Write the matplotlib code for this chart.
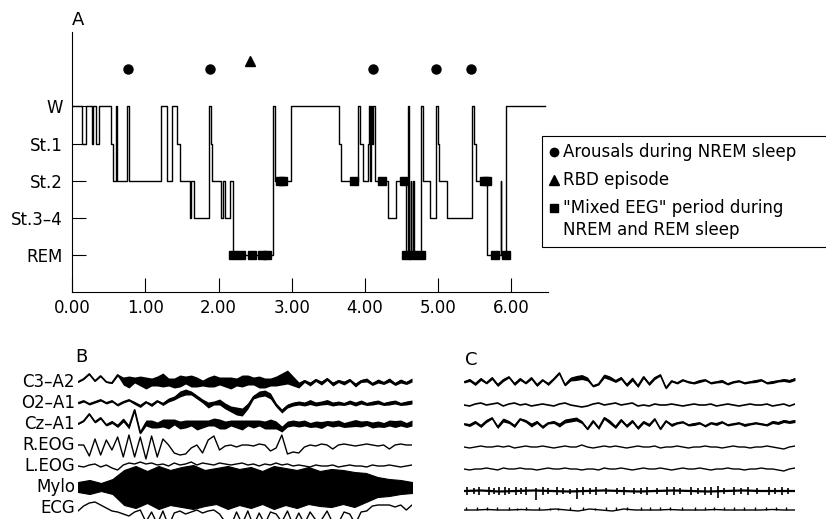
import numpy as np
import matplotlib
matplotlib.use('Agg')
import matplotlib.pyplot as plt
import matplotlib.transforms as mtransforms
from matplotlib.lines import Line2D

W_PX, H_PX = 826, 519

# ---- panel A: hypnogram -------------------------------------------------
STAGE_LEVEL = {'REM': 0, 'S34': 1, 'S2': 2, 'S1': 3, 'W': 4}
STAGE_TICK_LABELS = ['REM', 'St.3\u20134', 'St.2', 'St.1', 'W']
HOUR_TICKS = [0, 1, 2, 3, 4, 5, 6]
HOUR_LABELS = ['0.00', '1.00', '2.00', '3.00', '4.00', '5.00', '6.00']

HYP_TIME = [0.000, 0.137, 0.182, 0.270, 0.287, 0.319, 0.364, 0.523, 0.551,
            0.592, 0.610, 0.742, 0.770, 1.219, 1.297, 1.365, 1.433, 1.478,
            1.606, 1.628, 1.660, 1.870, 1.890, 1.915, 2.038, 2.060, 2.083,
            2.151, 2.197, 2.745, 2.775, 2.995, 3.652, 3.675, 3.902, 3.940,
            3.975, 4.039, 4.052, 4.065, 4.080, 4.095, 4.110, 4.143, 4.312,
            4.425, 4.561, 4.593, 4.600, 4.630, 4.637, 4.662, 4.668, 4.766,
            4.789, 4.889, 4.971, 4.994, 5.007, 5.117, 5.462, 5.494, 5.517,
            5.667, 5.858, 5.865, 5.935, 6.463]
HYP_STAGE = ['W', 'S1', 'W', 'S1', 'W', 'S1', 'W', 'S1', 'S2',
             'W', 'S2', 'W', 'S2', 'W', 'S2', 'W', 'S1', 'S2',
             'S34', 'S2', 'S34', 'W', 'S1', 'S2', 'S34', 'S2', 'S34',
             'S2', 'REM', 'W', 'S2', 'W', 'S1', 'S2', 'W', 'S1',
             'S2', 'S1', 'W', 'S2', 'W', 'S1', 'W', 'S2', 'S34',
             'S2', 'REM', 'W', 'REM', 'S2', 'REM', 'S2', 'REM', 'W',
             'S2', 'S34', 'W', 'S1', 'S2', 'S34', 'W', 'S1', 'S2',
             'REM', 'S2', 'REM', 'W', 'W']

AROUSAL_TIME = [0.755, 1.879, 4.107, 4.971, 5.457]
RBD_TIME = [2.429]
MIXED_TIME = [2.197, 2.302, 2.460, 2.592, 2.665, 2.838, 2.875, 3.845,
              4.232, 4.530, 4.562, 4.662, 4.766, 5.625, 5.665, 5.781, 5.926]
MIXED_STAGE = ['REM', 'REM', 'REM', 'REM', 'REM', 'S2', 'S2', 'S2',
               'S2', 'S2', 'REM', 'REM', 'REM', 'S2', 'S2', 'REM', 'REM']

LEGEND_LABELS = ['Arousals during NREM sleep',
                 'RBD episode',
                 '"Mixed EEG" period during\nNREM and REM sleep']

# ---- panels B and C: polygraphic traces (offsets in px, 30 s epochs) -----
# EEG channels: sampled trace + half-width of the dense scribble around it
CHANNELS = ['C3\u2013A2', 'O2\u2013A1', 'Cz\u2013A1', 'R.EOG', 'L.EOG', 'Mylo', 'ECG']

B_C3A2 = [0, 3, 8, 1, 6, 0, -1, 7, 1, 0, 2, 1, -1, 0, 1, 2, 0, -1, 1, 2,
          1, 0, -1, 0, 1, 1, 0, -1, 0, 1, 2, 1, 0, -1, 0, 1, 3, 5, 1, -3,
          1, -2, 2, -1, 3, -2, 1, -1, 2, -3, 1, 2, -2, 1, -1, 2, -2, 1, -1, 2]
B_C3A2_W = [0.5, 0.5, 0.5, 0.5, 0.5, 0.5, 0.5, 1, 4, 6, 3, 5, 6, 4, 5, 7, 4, 5, 6, 4,
            6, 5, 3, 5, 6, 4, 5, 6, 4, 6, 5, 4, 6, 5, 4, 5, 6, 7, 5, 3,
            1.5, 2, 1.5, 2, 1.5, 2, 1.5, 2, 1.5, 2, 1.5, 2, 1.5, 2, 1.5, 2, 1.5, 2, 1.5, 2]
B_O2A1 = [0, 2, -1, 1, 3, 0, 2, -2, 1, 3, 0, -3, 1, -2, 2, -1, 3, 5, 9, 11,
          10, 6, 2, -2, 0, 1, -3, -6, -8, -9, -3, 6, 9, 10, 7, -2, -8, -3, -1, 0,
          -1, 1, -1, 0, 1, -1, 0, -1, 1, -1, 1, -1, 0, 1, -1, 0, 1, -1, 0, 1]
B_O2A1_W = [1, 1, 1, 1, 1, 1, 1, 1, 1, 1, 1.5, 1.5, 1, 1.5, 1, 1.5, 2, 2, 3, 3,
            2, 2, 2, 3, 2, 3, 3, 3, 4, 4, 3, 2, 3, 3, 3, 2, 2, 2, 2, 2,
            2, 2.5, 2, 2, 2.5, 2, 2, 1.5, 2, 2, 2, 1.5, 2, 2, 1.5, 2, 2, 1.5, 2, 2]
B_CZA1 = [0, 3, 10, 2, 6, -1, 2, -2, 4, -3, 14, -9, 1, 0, -1, 1, 0, 2, -1, 0,
          1, -1, 0, 1, 2, 0, -1, 1, 0, -1, 1, 0, 1, -1, 0, -1, -5, 0, 1, 0,
          1, -1, 0, -1, 1, 0, 1, -1, 0, 1, 0, 1, -1, 0, -1, 1, 0, 1, -1, 1]
B_CZA1_W = [0.5, 0.5, 0.5, 1, 1, 1, 1.5, 1.5, 2, 2, 1, 1, 3, 4, 3, 4, 5, 3, 4, 4,
            3, 5, 4, 3, 4, 5, 4, 3, 4, 5, 3, 4, 3, 4, 5, 4, 3, 3, 3, 3,
            3, 2.5, 3, 3.5, 2.5, 3, 3, 2.5, 3, 3.5, 3, 2.5, 3, 3, 2.5, 3, 3.5, 3, 2.5, 3]
B_REOG = [0, 0, -11, 6, -10, 5, -5, 8, -12, 10, -12, 8, -14, 9, -12, 6, 0, -8, -10, -9,
          -3, 0, -8, 5, 9, -5, -1, 0, -2, 0, 0, -1, 1, 0, -6, -3, 10, -9, -7, -8,
          -2, 0, -1, 1, 0, -4, 0, 1, 0, -1, 0, 1, 0, -1, 0, -4, 0, 1, 0, 0]
B_LEOG = [0, -1, 1, 2, -1, 1, -2, -4, 1, 3, 2, 4, 2, 3, 1, 2, 0, 3, 1, 2,
          4, 1, 3, 2, 1, 3, 2, 1, 2, 3, 1, 2, 0, 2, 1, 3, 1, 2, 0, 1,
          0, -1, 1, 0, 0, 1, -1, 0, 1, 0, 0, -1, 1, 0, 0, 1, 0, -1, 0, 1]
B_MYLO_UP = [5, 7, 4, 8, 17, 21, 16, 21, 17, 20, 22, 17, 19, 21, 18,
             20, 16, 21, 19, 17, 20, 16, 18, 17, 15, 14, 10, 8, 7, 5]
B_MYLO_LO = [-5, -7, -4, -7, -18, -21, -16, -22, -18, -20, -22, -19, -17, -22, -18,
             -21, -17, -22, -18, -21, -17, -19, -20, -17, -20, -15, -10, -9, -7, -6]
B_ECG = [-3, 2, 5, 6, 3, 0, -3, -4, -6, -8, -4, -2, -14, -4, -16, -3, -18, -5, -3, -6,
         -4, -2, -5, -3, -2, -6, -14, -18, -4, -16, -3, -18, -5, -16, -4, -6, -14, -3, -17, -5,
         -16, -4, -12, -12, -3, -15, -15, -4, -6, -16, -4, -3, 2, 3, 3, 3, 1, 3, -2, 3]

C_C3A2 = [0, 2, -2, 3, -1, 4, -3, 2, 5, -2, 3, -1, 4, -3, 2, -2, 3, 9, -3, 3,
          4, 5, 3, -4, -2, 6, 4, 1, 4, -3, 3, -4, 5, -2, 4, 7, -6, 1, -1, 2,
          0, -1, 1, 2, -1, 0, 1, -2, 0, 1, -1, 0, 1, 2, -1, 0, 1, 2, 1, 3]
C_C3A2_W = [1, 1.5, 1.5, 1.5, 1, 1.5, 1.5, 1.5, 1, 1.5, 1.5, 1, 1.5, 1.5, 1, 1.5, 1, 1, 1, 2,
            2.5, 2.5, 2, 1, 1, 2, 2, 1.5, 1.5, 1.5, 2, 1.5, 1.5, 1.5, 1.5, 1, 1, 1, 1, 1,
            1, 1, 1.5, 1, 1, 1, 1.5, 1, 1, 1, 1, 1, 1.5, 1, 1, 1.5, 1, 1.5, 1.5, 1.5]
C_O2A1 = [0, -1, 1, 2, 0, 1, 2, -1, 1, 2, 0, 1, -1, 0, 1, 0, -1, 1, 2, 0,
          -1, -2, -1, 1, 2, 0, 1, 2, 0, 1, 2, -1, 0, -1, 1, 0, 0, 1, 0, -1,
          0, 1, 0, 0, 1, -1, 0, 1, 0, -1, 0, 1, 0, 0, 1, -1, 0, 1, -1, 1]
C_CZA1 = [0, -1, 2, -2, 3, 6, -3, 4, 2, -2, 5, 3, -1, 2, -3, 1, 2, -1, 3, 4,
          5, 2, -5, 3, -4, 6, 2, -3, 4, -2, 3, -4, 2, -1, 5, -5, 3, -1, 1, 2,
          -1, 0, 1, -2, 1, 0, 2, -1, 0, 1, -1, 0, 1, 0, -1, 2, 1, 3, 2, 3]
C_CZA1_W = [1, 1.5, 1.5, 1.5, 1.5, 1, 1.5, 2, 1.5, 1.5, 1, 1.5, 2, 1.5, 1.5, 1, 1.5, 2, 2, 2,
            2, 1.5, 1, 1.5, 1.5, 1.5, 2, 1.5, 1.5, 1.5, 1.5, 1.5, 1.5, 1.5, 1, 1, 1, 1.5, 1, 1,
            1, 1.5, 1, 1, 1, 1.5, 1, 1, 1, 1, 1.5, 1, 1, 1, 1, 1.5, 1.5, 1.5, 1.5, 1.5]
C_REOG = [0, -1, 0, 1, 0, 0, 1, 0, 1, -1, 0, 1, 0, 0, 1, 0, -1, 0, 1, 0,
          0, 2, 0, -1, 0, 1, 0, 1, 0, -1, 0, 1, 0, 0, 1, -1, 0, 0, 1, 0,
          -1, 0, 0, 1, 0, 0, -1, 0, 1, 0, 0, -1, 0, 0, 1, 0, -1, -2, 0, 1]
C_LEOG = [0, -1, 0, 0, 1, 0, -1, 1, 0, 0, 1, 0, 0, -1, 0, 1, 0, 0, 1, 0,
          0, -1, 0, 0, -1, 1, 0, 0, 1, 0, -1, 0, 1, 0, 0, 1, 0, -1, 0, 1,
          0, 0, 1, 0, -1, 0, 0, 1, 0, 0, -1, 0, 0, 1, 0, 0, -1, -2, 0, 1]
C_MYLO_BASE = [0, 0.5, -0.5, 0, 0.5, 0, -0.5, 0, 0.5, 0, -0.5, 0, 0.5, 0, -0.5, 0, 0.5, 0, 0, 0]
C_MYLO_SPIKE_T = [0.3, 0.9, 1.4, 2.3, 2.7, 3.2, 3.7, 4.1, 4.7, 5.2, 5.6, 6.5, 7.2, 7.6,
                  8.4, 9.0, 9.6, 10.2, 10.8, 11.4, 12.0, 12.9, 13.9, 14.5, 15.4, 16.0,
                  16.6, 17.5, 18.4, 19.0, 19.6, 20.6, 21.2, 21.8, 22.4, 23.0, 23.6,
                  24.5, 25.1, 25.7, 26.6, 27.6, 28.2, 28.8, 29.4]
C_MYLO_SPIKE_UP = [4, 3, 4, 4, 3, 4, 4, 3, 4, 3, 4, 3, 4, 3, 4, 3, 2, 3, 4, 3, 4, 3,
                   3, 4, 3, 3, 4, 3, 4, 4, 3, 4, 3, 4, 4, 5, 3, 4, 3, 4, 3, 4, 3, 4, 3]
C_MYLO_SPIKE_DN = [4, 3, 4, 4, 3, 4, 4, 3, 4, 3, 4, 9, 4, 3, 4, 3, 3, 8, 4, 3, 4, 3,
                   3, 4, 3, 3, 4, 3, 4, 4, 3, 4, 3, 4, 4, 7, 3, 4, 3, 4, 3, 4, 3, 4, 3]
C_ECG_BASE = [0, 0, 0.5, 0, 0, 0.5, 0, 0, 1, 0, -1, 1, 0, -1, 1, 0, 0, 0, 0.5, 0,
              0, 0, 0.5, 0, 0, 0, 0, 0.5, 0, 0]
C_ECG_R_T = [0.2, 1.2, 2.1, 3.0, 4.1, 4.8, 5.6, 6.8, 7.8, 8.5, 9.6, 10.8, 11.9, 12.9,
             13.8, 14.8, 16.0, 16.9, 17.8, 18.7, 19.8, 20.9, 21.8, 22.7, 23.6, 24.5,
             25.4, 26.4, 27.4, 28.3, 29.2]
C_ECG_R_H = [3, 3, 3, 3, 3, 2, 3, 3, 2, 2, 3, 3, 2, 3, 3, 3, 3, 3, 3, 3, 3, 3, 3, 3,
             3, 3, 3, 3, 3, 3, 3]

B_TRACES = [B_C3A2, B_O2A1, B_CZA1, B_REOG, B_LEOG, None, B_ECG]
B_WIDTHS = [B_C3A2_W, B_O2A1_W, B_CZA1_W, None, None, None, None]
C_TRACES = [C_C3A2, C_O2A1, C_CZA1, C_REOG, C_LEOG, None, None]
C_WIDTHS = [C_C3A2_W, None, C_CZA1_W, None, None, None, None]


def fx(x):
    return x / W_PX


def fy(y):
    return 1 - y / H_PX


def draw_traces(ax, traces, widths, bases, lws):
    for vals, wid, base, lw in zip(traces, widths, bases, lws):
        if vals is None:
            continue
        t = np.linspace(0, 30, len(vals))
        v = base + np.array(vals, dtype=float)
        ax.plot(t, v, color='black', lw=lw)
        if wid is not None:
            w = np.array(wid, dtype=float)
            ax.fill_between(t, v - w, v + w, color='black', lw=0)


fig = plt.figure(figsize=(W_PX / 100, H_PX / 100), dpi=100)
fig.patch.set_facecolor('white')

# ---- A ------------------------------------------------------------------
ax = fig.add_axes([fx(72.3), fy(292.3), (547.7 - 72.3) / W_PX, (292.3 - 32) / H_PX])
levels = [STAGE_LEVEL[s] for s in HYP_STAGE]
ax.step(HYP_TIME, levels, where='post', color='black', lw=1.0, zorder=2)
ax.plot(AROUSAL_TIME, [5.0] * len(AROUSAL_TIME), 'o', color='black', ms=6.5, zorder=3)
ax.plot(RBD_TIME, [5.22] * len(RBD_TIME), '^', color='black', ms=7, zorder=3)
ax.plot(MIXED_TIME, [STAGE_LEVEL[s] for s in MIXED_STAGE], 's', color='black',
        ms=5.8, zorder=3)
ax.set_xlim(0, 6.5)
ax.set_ylim(-1, 6)
for side in ['top', 'right']:
    ax.spines[side].set_visible(False)
for side in ['left', 'bottom']:
    ax.spines[side].set_linewidth(0.8)
ax.set_yticks(range(5), STAGE_TICK_LABELS)
ax.set_xticks(HOUR_TICKS, HOUR_LABELS)
ax.tick_params(axis='y', direction='in', length=10, width=0.8, labelsize=12, pad=7)
ax.tick_params(axis='x', direction='in', length=10, width=0.8, labelsize=12, pad=5)

# legend drawn by hand: the box is open on the right, running off the edge
fig.add_artist(Line2D([1.03, fx(542), fx(542), 1.03], [fy(136), fy(136), fy(247), fy(247)],
                      transform=fig.transFigure, color='black', lw=0.8,
                      solid_joinstyle='miter'))
leg_rows = [151.7, 180, 219]
leg_marks = [('o', 6, 151.7), ('^', 6.5, 180), ('s', 5.2, 208)]
for (m, ms, my), label, ty in zip(leg_marks, LEGEND_LABELS, leg_rows):
    fig.add_artist(Line2D([fx(554)], [fy(my)], marker=m, ms=ms, color='black',
                          ls='none', transform=fig.transFigure))
    fig.text(fx(563), fy(ty), label, fontsize=12, va='center', ha='left',
             linespacing=1.3)

fig.text(fx(72), fy(25), 'A', fontsize=13, va='baseline')
fig.text(fx(75), fy(362), 'B', fontsize=13, va='baseline')
fig.text(fx(465), fy(365), 'C', fontsize=13, va='baseline')

# ---- B and C ------------------------------------------------------------
B_BASE = [137, 116, 95, 74, 53, 32, 11]
C_BASE = [137, 114, 95, 72, 50, 28, 9]
B_LW = [1.3, 1.3, 1.3, 1.0, 1.0, 1.0, 1.0]
C_LW = [1.2, 1.2, 1.2, 1.0, 1.0, 1.0, 1.0]

axb = fig.add_axes([fx(78), 0, (412 - 78) / W_PX, 154 / H_PX])
axc = fig.add_axes([fx(464), 0, (795 - 464) / W_PX, 154 / H_PX])
for a in (axb, axc):
    a.set_xlim(0, 30)
    a.set_ylim(0, 154)
    a.axis('off')

draw_traces(axb, B_TRACES, B_WIDTHS, B_BASE, B_LW)
tm = np.linspace(0, 30, len(B_MYLO_UP))
axb.fill_between(tm, B_BASE[5] + np.array(B_MYLO_LO), B_BASE[5] + np.array(B_MYLO_UP),
                 color='black', lw=0.8)

draw_traces(axc, C_TRACES, C_WIDTHS, C_BASE, C_LW)
t = np.linspace(0, 30, len(C_MYLO_BASE))
axc.plot(t, C_BASE[5] + np.array(C_MYLO_BASE), color='black', lw=1.6)
axc.vlines(C_MYLO_SPIKE_T, C_BASE[5] - np.array(C_MYLO_SPIKE_DN),
           C_BASE[5] + np.array(C_MYLO_SPIKE_UP), color='black', lw=1.2)

t = np.linspace(0, 30, len(C_ECG_BASE))
axc.plot(t, C_BASE[6] + np.array(C_ECG_BASE), color='black', lw=1.0)
axc.vlines(C_ECG_R_T, C_BASE[6], C_BASE[6] + np.array(C_ECG_R_H), color='black', lw=1.0)

# channel names to the left of panel B
lab_tr = mtransforms.blended_transform_factory(fig.transFigure, axb.transData)
for name, base in zip(CHANNELS, B_BASE):
    axb.text(fx(75), base, name, transform=lab_tr, ha='right', va='center',
             fontsize=12)

fig.savefig('out.png', dpi=100)
